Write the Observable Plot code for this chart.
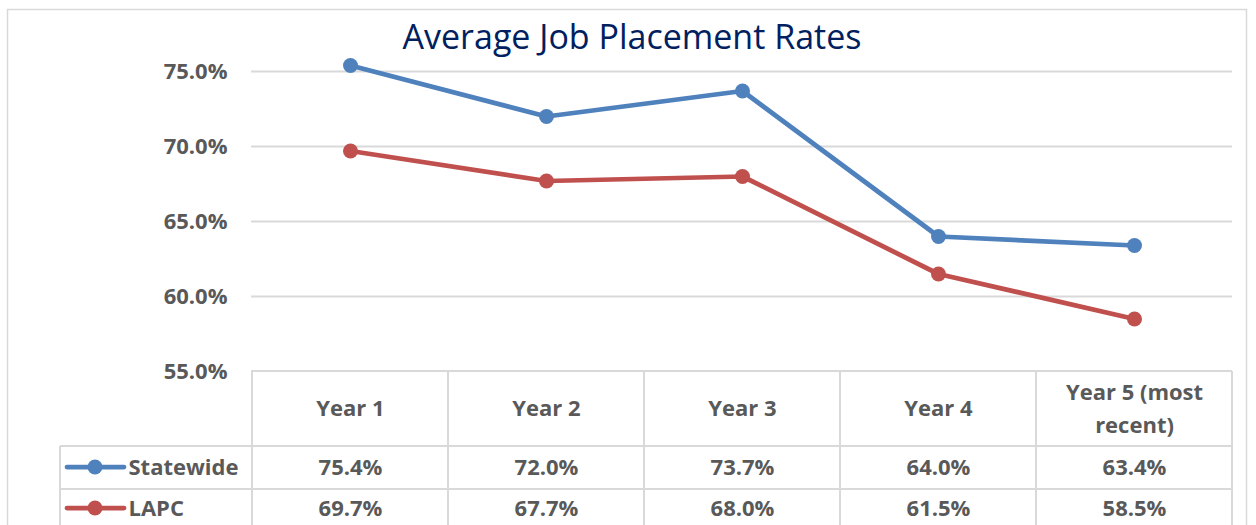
<!DOCTYPE html>
<html><head><meta charset="utf-8">
<script src="https://cdn.jsdelivr.net/npm/d3@7"></script>
<script src="https://cdn.jsdelivr.net/npm/@observablehq/plot@0.6"></script>
<style>html,body{margin:0;padding:0;background:#fff;} svg{display:block;}</style>
</head><body><div id="chart"></div>
<script>
const years = ["Year 1", "Year 2", "Year 3", "Year 4", "Year 5 (most recent)"];
const headerLabels = ["Year 1", "Year 2", "Year 3", "Year 4", "Year 5 (most\nrecent)"];
const statewide = [75.4, 72.0, 73.7, 64.0, 63.4];
const lapc = [69.7, 67.7, 68.0, 61.5, 58.5];
const seriesNames = ["Statewide", "LAPC"];
const seriesColors = ["#4f81bd", "#c0504d"];
const yTicks = [55, 60, 65, 70, 75];
const title = "Average Job Placement Rates";

const data = [
  ...years.map((year, i) => ({series: seriesNames[0], year, value: statewide[i]})),
  ...years.map((year, i) => ({series: seriesNames[1], year, value: lapc[i]}))
];
const headers = years.map((year, i) => ({year, label: headerLabels[i]}));
const fmt = v => v.toFixed(1) + "%";
const grey = "#595959";
const lineGrey = "#d9d9d9";
const rowOffsets = [96, 137];

function tableFrame(index, scales, values, dims) {
  const g = d3.create("svg:g");
  const left = dims.marginLeft, right = dims.width - dims.marginRight;
  const top0 = dims.height - dims.marginBottom;
  const bw = (right - left) / years.length;
  const hdrBottom = top0 + 75, row1Bottom = hdrBottom + 43, row2Bottom = row1Bottom + 42;
  const legendLeft = 60;
  g.append("rect").attr("x", 7.5).attr("y", 9.5).attr("width", 1239).attr("height", 560)
    .attr("fill", "none").attr("stroke", lineGrey).attr("stroke-width", 1.5);
  const line = (x1, y1, x2, y2) => g.append("line").attr("x1", x1).attr("y1", y1).attr("x2", x2).attr("y2", y2)
    .attr("stroke", lineGrey).attr("stroke-width", 2);
  line(left, top0, right, top0);
  line(legendLeft, hdrBottom, right, hdrBottom);
  line(legendLeft, row1Bottom, right, row1Bottom);
  line(legendLeft, row2Bottom, right, row2Bottom);
  for (let i = 0; i <= years.length; i++) {
    const xx = (i < years.length && scales.x) ? scales.x(years[i]) : left + i * bw;
    line(xx, top0, xx, dims.height + 20);
  }
  line(legendLeft, hdrBottom, legendLeft, dims.height + 20);
  seriesNames.forEach((s, k) => {
    const cy = top0 + rowOffsets[k];
    g.append("line").attr("x1", 67).attr("x2", 124).attr("y1", cy).attr("y2", cy)
      .attr("stroke", seriesColors[k]).attr("stroke-width", 4.75).attr("stroke-linecap", "round");
    g.append("circle").attr("cx", 95).attr("cy", cy).attr("r", 7.5).attr("fill", seriesColors[k]);
  });
  return g.node();
}

const textStyle = {fontSize: 22, fontWeight: "bold", fill: grey, lineAnchor: "middle"};

const chart = Plot.plot({
  width: 1256,
  height: 525,
  marginLeft: 251,
  marginRight: 24,
  marginTop: 38,
  marginBottom: 154,
  style: {fontFamily: "'Open Sans', sans-serif", background: "#fff", overflow: "visible"},
  x: {type: "band", domain: years, padding: 0, axis: null},
  y: {domain: [55, 77.2], axis: null},
  color: {domain: seriesNames, range: seriesColors},
  marks: [
    tableFrame,
    Plot.ruleY(yTicks.filter(t => t > 55), {stroke: lineGrey, strokeWidth: 2}),
    Plot.axisY(yTicks, {label: null, tickSize: 0, tickPadding: 24, tickFormat: fmt, fontSize: 22, fontWeight: "bold", fill: grey}),
    Plot.line(data, {x: "year", y: "value", z: "series", stroke: "series", strokeWidth: 4.75}),
    Plot.dot(data, {x: "year", y: "value", fill: "series", r: 7.5}),
    Plot.text([title], {frameAnchor: "top", lineAnchor: "middle", dx: -110, dy: 0, fontSize: 34, fill: "#002060", fontWeight: "normal"}),
    Plot.text(headers, {x: "year", text: "label", frameAnchor: "bottom", dy: 34, lineHeight: 1.5, ...textStyle}),
    Plot.text(data.filter(d => d.series === seriesNames[0]), {x: "year", text: d => fmt(d.value), frameAnchor: "bottom", dy: rowOffsets[0], ...textStyle}),
    Plot.text(data.filter(d => d.series === seriesNames[1]), {x: "year", text: d => fmt(d.value), frameAnchor: "bottom", dy: rowOffsets[1], ...textStyle}),
    Plot.text([seriesNames[0]], {frameAnchor: "bottom-left", dx: -123, dy: rowOffsets[0], textAnchor: "start", ...textStyle}),
    Plot.text([seriesNames[1]], {frameAnchor: "bottom-left", dx: -123, dy: rowOffsets[1], textAnchor: "start", ...textStyle})
  ]
});
document.getElementById("chart").appendChild(chart);
</script>
</body></html>
